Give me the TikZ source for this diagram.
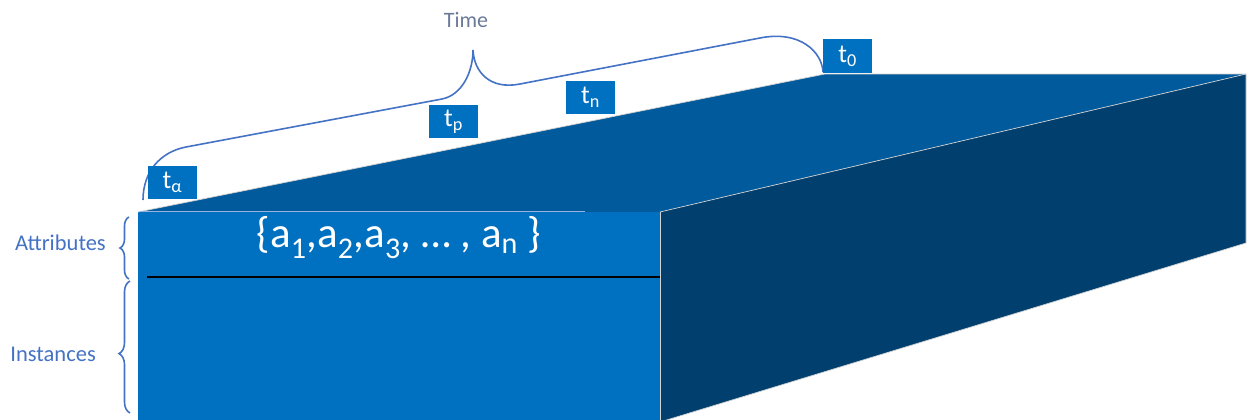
\documentclass[tikz,border=0pt]{standalone}
\usepackage{fontspec}
\setmainfont{Carlito}
\usetikzlibrary{decorations.pathreplacing}
\definecolor{frontc}{HTML}{0070C0}
\definecolor{topc}{HTML}{005A9C}
\definecolor{sidec}{HTML}{003F6E}
\definecolor{bracec}{HTML}{4472C4}
\definecolor{timec}{HTML}{6B7A99}
\tikzset{
  tlabel/.style={fill=frontc,text=white,minimum width=49pt,minimum height=33pt,inner sep=0pt,font=\fontsize{26}{28}\selectfont},
  facedge/.style={draw=gray!35,line width=0.7pt},
  bracel/.style={draw=bracec,line width=1.6pt},
  sidelabel/.style={text=bracec,font=\fontsize{22.5}{24}\selectfont,inner sep=0pt},
}
\begin{document}
\begin{tikzpicture}[x=1pt,y=-1pt]
\useasboundingbox (0,0) rectangle (1252,420);
% corners
\coordinate (FTL) at (138,212);
\coordinate (FTR) at (660,212);
\coordinate (FBL) at (138,422);
\coordinate (FBR) at (660,422);
\coordinate (BTL) at (825,74);
\coordinate (BTR) at (1246,74);
\coordinate (BBR) at (1246,243);
% faces
\fill[topc] (FTL) -- (BTL) -- (BTR) -- (FTR) -- cycle;
\fill[sidec] (FTR) -- (BTR) -- (BBR) -- (FBR) -- cycle;
\fill[frontc] (FTL) -- (FTR) -- (FBR) -- (FBL) -- cycle;
\draw[facedge] (FTL) -- (BTL) -- (BTR) -- (BBR) -- (FBR);
\draw[facedge] (FTR) -- (BTR);
\draw[facedge] (FTR) -- (FBR);
\coordinate (HL1) at (140,211);
\coordinate (HL2) at (585,211);
\draw[color={rgb,255:red,150;green,180;blue,225},line width=0.8pt] (HL1) -- (HL2);
% separator
\coordinate (S1) at (147,277);
\coordinate (S2) at (660,277);
\draw[black,line width=1.4pt] (S1) -- (S2);
% attribute set
\node[text=white,font=\fontsize{43}{45}\selectfont,inner sep=0pt] (attrs) at (399,238)
  {\{a\textsubscript{1},a\textsubscript{2},a\textsubscript{3}, … , a\textsubscript{n} \}};
% time brace
\coordinate (TB0) at (143,200);
\coordinate (TB1) at (823,72);
\coordinate (Ttip) at (473,50);
\draw[bracel] (TB0) .. controls (143,172) and (160,152) .. (186,147) -- (442,99)
  .. controls (462,95) and (473,72) .. (Ttip)
  .. controls (474,72) and (490,90) .. (520,84) -- (760,38)
  .. controls (800,30) and (822,52) .. (TB1);
\node[text=timec,font=\fontsize{22}{24}\selectfont,inner sep=0pt] (time) at (466,20) {Time};
% t labels
\node[tlabel] (ta) at (172.5,182.5) {t\textsubscript{α}};
\node[tlabel] (tp) at (453.5,121.5) {t\textsubscript{p}};
\node[tlabel] (tn) at (590.5,97.5) {t\textsubscript{n}};
\node[tlabel] (t0) at (847.5,56) {t\textsubscript{0}};
% side braces
\coordinate (AB1) at (129,279);
\coordinate (AB2) at (129,217);
\coordinate (IB1) at (130,413);
\coordinate (IB2) at (130,281);
\draw[bracel,decorate,decoration={brace,amplitude=9pt}] (AB1) -- (AB2);
\draw[bracel,decorate,decoration={brace,amplitude=11pt,aspect=0.45}] (IB1) -- (IB2);
\node[sidelabel,anchor=east] (attrlab) at (106,243) {Attributes};
\node[sidelabel,anchor=east] (instlab) at (96,354) {Instances};
\end{tikzpicture}
\end{document}
